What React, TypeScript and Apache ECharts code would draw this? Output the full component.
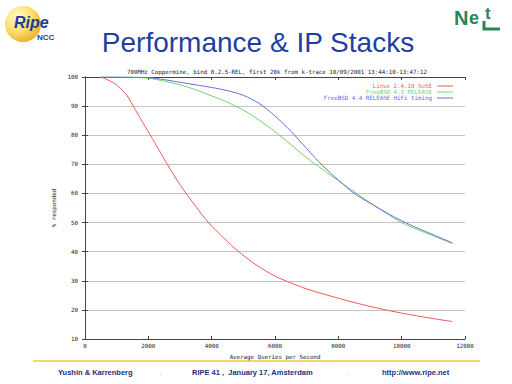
import React, { useEffect, useRef } from "react";
import * as echarts from "echarts";

const slideTitle = "Performance & IP Stacks";
const chartTitle = "700MHz Coppermine, bind 8.2.5-REL, first 20k from k-trace 10/09/2001 13:44:10-13:47:12";
const xName = "Average Queries per Second";
const yName = "% responded";
const seriesNames = ["Linux 2.4.10 SuSE", "FreeBSD 4.3 RELEASE", "FreeBSD 4.4 RELEASE HiFi timing"];
const seriesColors = ["#ee5a5a", "#6ad86a", "#6a6ae0"];

const linux = [
  [500, 100], [900, 98], [1300, 94], [1600, 88.5], [1900, 83], [2200, 77.5], [2600, 70],
  [3000, 63], [3500, 55.5], [3900, 50], [4400, 44.5], [4800, 40.5], [5400, 35.5], [6000, 31.6],
  [6500, 29.3], [7000, 27.2], [8000, 24], [9000, 21.2], [10000, 18.9], [11000, 17], [11600, 16],
];
const freebsd43 = [
  [500, 100], [1000, 100], [1500, 99.9], [2000, 99.6], [2500, 98.6], [3000, 97.3], [3500, 95.6],
  [4000, 93.5], [4500, 91.3], [5000, 88.6], [5500, 85.2], [6000, 81.2], [6500, 76.8], [7000, 72.3],
  [7500, 68.2], [8000, 64.4], [8500, 60.6], [9000, 56.8], [9500, 53.3], [10000, 50], [10500, 47.6],
  [11000, 45.4], [11600, 42.8],
];
const freebsd44 = [
  [500, 100], [1000, 100], [1500, 99.95], [2000, 99.8], [2500, 99.1], [3000, 98.2], [3500, 97.3],
  [4000, 96.4], [4500, 95.3], [5000, 93.7], [5500, 90.9], [6000, 86.6], [6500, 81.4], [7000, 75.4],
  [7500, 69.6], [8000, 64.6], [8500, 60], [9000, 56.7], [9500, 53.5], [10000, 50.6], [10500, 48.1],
  [11000, 45.8], [11600, 43],
];
const footerLeft = "Yushin & Karrenberg";
const footerMid = "RIPE 41 ,  January 17, Amsterdam";
const footerRight = "http://www.ripe.net";

const mono = "DejaVu Sans Mono";
const fs = 5.8;

function txt(x: number, y: number, text: string, fill: string, font: string, align = "left") {
  return { type: "text", x, y, style: { text, fill, font, align, verticalAlign: "middle" } };
}

export default function App() {
  const ref = useRef<HTMLDivElement>(null);
  useEffect(() => {
    if (!ref.current) return;
    const chart = echarts.init(ref.current, null, { renderer: "svg" });
    const frame = { show: true, lineStyle: { color: "#444", width: 1 } };
    const tick = { show: true, inside: true, length: 3, lineStyle: { color: "#444" } };
    const green = "#27855a";
    const navy = "#1c2f80";
    chart.setOption({
      animation: false,
      backgroundColor: "#ffffff",
      title: {
        text: chartTitle,
        left: 272,
        textAlign: "center",
        top: 64,
        textStyle: { fontFamily: mono, fontSize: fs, fontWeight: "normal", color: "#222" },
      },
      legend: {
        orient: "vertical",
        right: 54,
        top: 78,
        align: "right",
        itemWidth: 16,
        itemHeight: 1,
        itemGap: 0,
        icon: "rect",
        data: seriesNames.map((n, i) => ({ name: n, textStyle: { color: seriesColors[i] } })),
        textStyle: { fontFamily: mono, fontSize: fs, lineHeight: 5 },
      },
      grid: { left: 85, right: 47, top: 77, bottom: 45 },
      xAxis: [
        {
          type: "value", min: 0, max: 12000, interval: 2000, position: "bottom",
          name: xName, nameLocation: "middle", nameGap: 13,
          nameTextStyle: { fontFamily: mono, fontSize: fs, color: "#222" },
          axisLine: frame, axisTick: tick,
          axisLabel: { fontFamily: mono, fontSize: fs, color: "#222", margin: 4, formatter: (v: number) => String(v) },
          splitLine: { show: false },
        },
        {
          type: "value", min: 0, max: 12000, interval: 2000, position: "top",
          axisLine: frame, axisTick: tick, axisLabel: { show: false }, splitLine: { show: false },
        },
      ],
      yAxis: [
        {
          type: "value", min: 10, max: 100, interval: 10, position: "left",
          name: yName, nameLocation: "middle", nameRotate: 90, nameGap: 24,
          nameTextStyle: { fontFamily: mono, fontSize: fs, color: "#222" },
          axisLine: frame, axisTick: tick,
          axisLabel: { fontFamily: mono, fontSize: fs, color: "#222", margin: 7 },
          splitLine: { show: true, lineStyle: { color: "#c4c4c4", width: 1 } },
        },
        {
          type: "value", min: 10, max: 100, interval: 10, position: "right",
          axisLine: frame, axisTick: tick, axisLabel: { show: false }, splitLine: { show: false },
        },
      ],
      series: [linux, freebsd43, freebsd44].map((d, i) => ({
        name: seriesNames[i],
        type: "line",
        data: d,
        smooth: 0.3,
        showSymbol: false,
        symbol: "none",
        color: seriesColors[i],
        lineStyle: { width: 1, color: seriesColors[i] },
        xAxisIndex: 0,
        yAxisIndex: 0,
      })),
      graphic: [
        // Ripe NCC logo
        {
          type: "circle",
          shape: { cx: 23, cy: 24, r: 18 },
          style: {
            fill: new echarts.graphic.RadialGradient(0.35, 0.3, 0.8, [
              { offset: 0, color: "#fffbd0" },
              { offset: 0.5, color: "#fbe070" },
              { offset: 1, color: "#eaa820" },
            ]),
          },
        },
        txt(14, 22, "Ripe", "#1d3c96", "italic bold 16px 'Liberation Sans'"),
        txt(37, 37, "NCC", "#1d3c96", "bold 8px 'Liberation Sans'"),
        // NeT logo
        txt(454, 18, "N", green, "bold 20px 'Liberation Sans'"),
        txt(469, 18, "e", green, "bold 18px 'Liberation Sans'"),
        txt(485, 13, "t", green, "bold 17px 'Liberation Sans'"),
        {
          type: "polyline",
          shape: { points: [[484, 21], [484, 29], [500, 29]] },
          style: { stroke: green, lineWidth: 3, fill: null },
        },
        // slide title
        txt(258, 42, slideTitle, "#1f3f9f", "28px 'Liberation Sans'", "center"),
        // separator
        {
          type: "line",
          shape: { x1: 33, y1: 361, x2: 480, y2: 361 },
          style: { stroke: "#f0c83a", lineWidth: 1.5 },
        },
        // footer
        txt(58, 372, footerLeft, navy, "bold 7.5px 'Liberation Sans'"),
        txt(160, 372, ".", "#e8d060", "bold 8px 'Liberation Sans'"),
        txt(192, 372, footerMid, navy, "bold 7.5px 'Liberation Sans'"),
        txt(348, 372, ".", "#e8d060", "bold 8px 'Liberation Sans'"),
        txt(382, 372, footerRight, navy, "bold 7.5px 'Liberation Sans'"),
      ],
    });
    return () => chart.dispose();
  }, []);
  return (
    <div
      ref={ref}
      style={{ position: "absolute", left: 0, top: 0, width: 512, height: 384, background: "#fff" }}
    />
  );
}
